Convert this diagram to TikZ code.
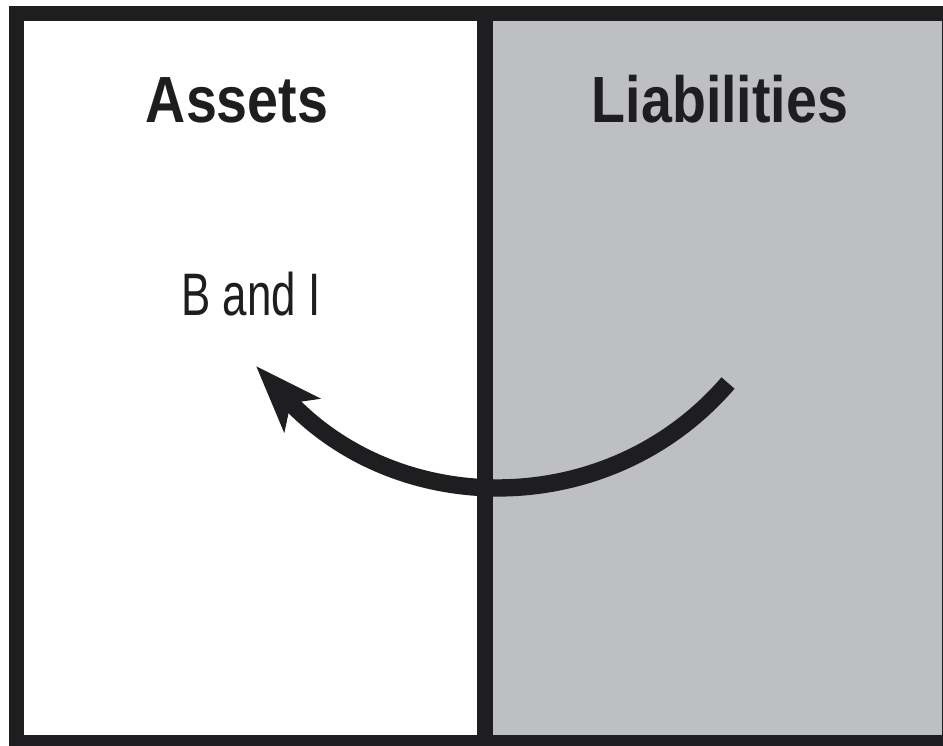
\documentclass[tikz,border=0pt]{standalone}
\usepackage{fontspec}
\setmainfont{Liberation Sans}
\usetikzlibrary{arrows.meta}
\definecolor{ink}{RGB}{30,30,32}
\definecolor{liabgray}{RGB}{190,191,195}
\begin{document}
\begin{tikzpicture}[x=0.75pt,y=-0.75pt]

    \tikzset{
      border/.style={
        color={ink},
        line width=11.25pt,
      },
      title/.style={
        color={ink},
        anchor=base,
        inner sep=0pt,
        xscale=0.85,
        font=\fontsize{49}{49}\selectfont\bfseries,
      },
      flow/.style={
        color={ink},
        line width=13pt,
        -{Stealth[length=50pt,width=36pt,inset=12pt]},
      },
    }
    \useasboundingbox (0,0) rectangle (943,746);
	\fill[color={liabgray}] (485,13) rectangle (949,742);
	\draw[border] (16,13) rectangle (949,742);
	\draw[border,line width=12pt] (485,13)--(485,742);

\node[title] (assets) at (237,122) {Assets};
\node[title] (liab) at (720,122) {Liabilities};
\node[title,font=\fontsize{45}{45}\selectfont,xscale=0.86] (bandi) at (251,315) {B and I};

\coordinate (from) at (728,383);
\coordinate (to) at (256,366);
\draw[flow] (from) .. controls (610,520) and (400,520) .. (to);

\end{tikzpicture}
\end{document}
